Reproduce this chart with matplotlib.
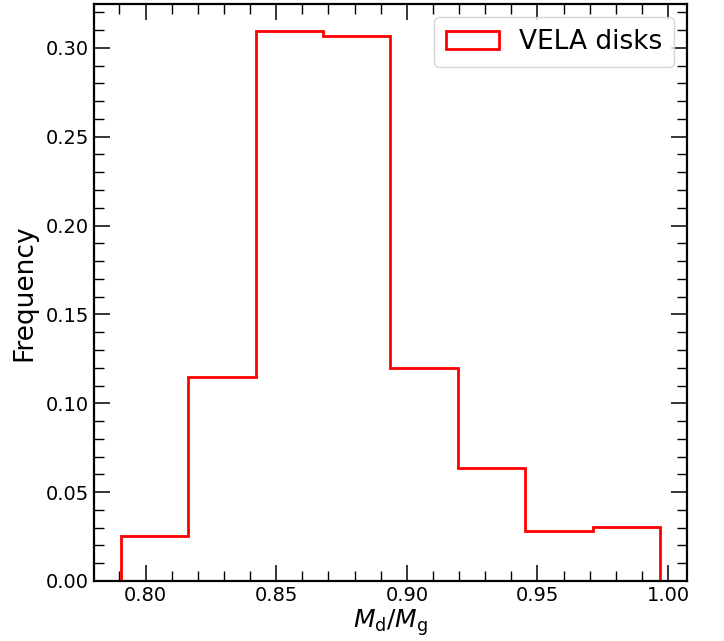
import numpy as np
import matplotlib
matplotlib.use("Agg")
import matplotlib.pyplot as plt
from matplotlib.ticker import MultipleLocator

bin_edges = [0.7906, 0.8164, 0.8422, 0.8680, 0.8937, 0.9195, 0.9453, 0.9711, 0.9969]
frequencies = [0.0253, 0.1149, 0.3092, 0.3069, 0.1200, 0.0636, 0.0282, 0.0304]
xticks = [0.80, 0.85, 0.90, 0.95, 1.00]
yticks = [0.00, 0.05, 0.10, 0.15, 0.20, 0.25, 0.30]

fig = plt.figure(figsize=(7.24, 6.41), dpi=100)
ax = fig.add_axes([94/724, 60/641, (687-94)/724, (581-4)/641])

centers = [(bin_edges[i] + bin_edges[i+1]) / 2 for i in range(len(frequencies))]
ax.hist(centers, bins=bin_edges, weights=frequencies, histtype='step',
        color='red', linewidth=2, label='VELA disks')

ax.set_xticks(xticks)
ax.set_yticks(yticks)
ax.set_xticklabels([f"{t:.2f}" for t in xticks])
ax.set_yticklabels([f"{t:.2f}" for t in yticks])
ax.xaxis.set_minor_locator(MultipleLocator(0.01))
ax.yaxis.set_minor_locator(MultipleLocator(0.01))
ax.tick_params(which='both', direction='in', top=True, right=True, labelsize=14)
ax.tick_params(which='major', length=11.5, width=1.1)
ax.tick_params(which='minor', length=7.5, width=1.0)
for s in ax.spines.values():
    s.set_linewidth(1.6)

ax.set_xlabel(r'$M_\mathrm{d}/M_\mathrm{g}$', fontsize=18, labelpad=2)
ax.set_ylabel('Frequency', fontsize=19, labelpad=6)
ax.legend(loc='upper right', fontsize=19, handlelength=2.0, handletextpad=0.75,
          borderpad=0.45)

fig.savefig('out.png', dpi=100)
